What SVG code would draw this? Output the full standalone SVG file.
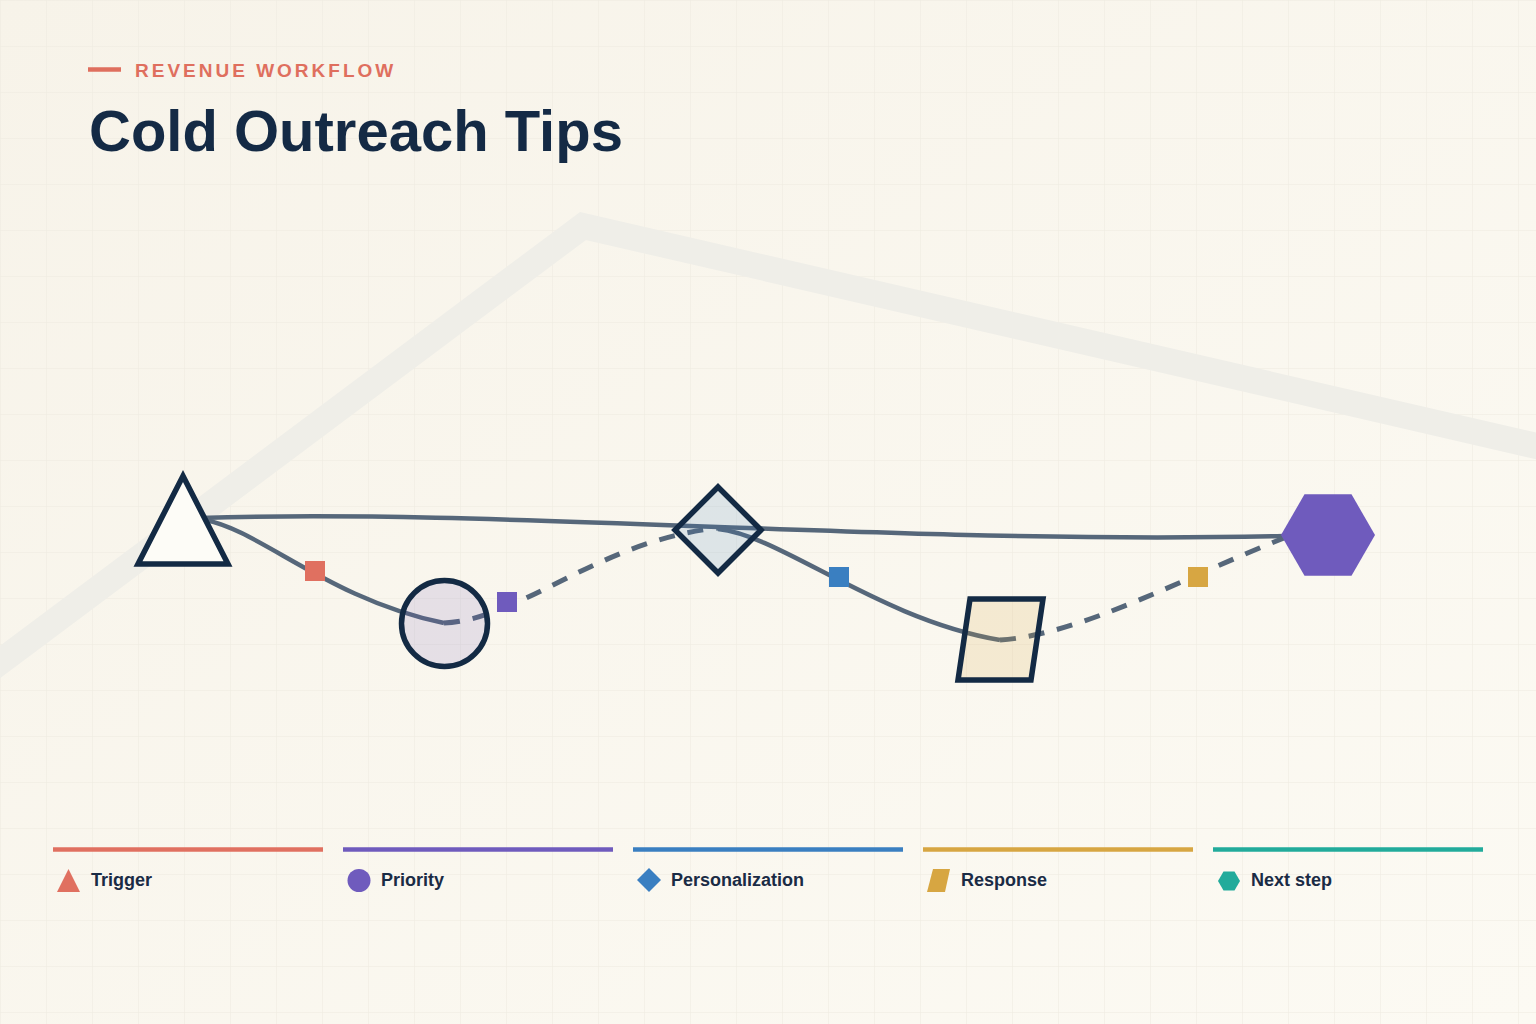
<svg xmlns="http://www.w3.org/2000/svg" width="1536" height="1024" viewBox="0 0 1536 1024">
  <defs>
    <linearGradient id="bg" x1="0" y1="0" x2="1" y2="1">
      <stop offset="0" stop-color="#f7f3e9"/>
      <stop offset="1" stop-color="#fcfaf3"/>
    </linearGradient>
    <pattern id="grid" width="46" height="46" patternUnits="userSpaceOnUse">
      <path d="M46 0 L0 0 0 46" fill="none" stroke="#edeadf" stroke-width="1"/>
    </pattern>
    <style>
      .node { stroke: #132a44; stroke-width: 5.5; stroke-linejoin: miter; }
      .conn { fill: none; stroke: #56677a; stroke-width: 4.5; }
      .dash { stroke-dasharray: 16 13; stroke-width: 5; }
      .lbl { font-family: "Liberation Sans", Arial, sans-serif; font-weight: bold; font-size: 18px; fill: #1a2b45; }
      .bar { stroke-width: 4.5; }
    </style>
  </defs>

  <rect width="1536" height="1024" fill="url(#bg)"/>
  <rect width="1536" height="1024" fill="url(#grid)"/>
  <polyline points="-40,692 583,226 1580,456" fill="none" stroke="#efeee8" stroke-width="26" stroke-linejoin="miter"/>

  <g id="header">
    <line x1="88" y1="69.5" x2="121" y2="69.5" stroke="#df6f5e" stroke-width="4.5"/>
    <text x="135" y="77" font-family="'Liberation Sans', Arial, sans-serif" font-weight="bold" font-size="19" letter-spacing="3" fill="#df6f5e">REVENUE WORKFLOW</text>
    <text x="89" y="151" font-family="'Liberation Sans', Arial, sans-serif" font-weight="bold" font-size="58" fill="#142a45">Cold Outreach Tips</text>
  </g>

  <g id="connectors">
    <path class="conn" d="M200,518 C500,508 900,545 1284,536"/>
    <path class="conn" d="M205,520 C260,530 330,600 444,623"/>
    <path class="conn dash" d="M444,623 C520,620 600,540 718,528"/>
    <path class="conn" d="M718,529 C780,535 880,620 1000,640"/>
    <path class="conn dash" d="M1000,640 C1080,635 1190,575 1284,538"/>
    <rect x="305" y="561" width="20" height="20" fill="#e07060"/>
    <rect x="497" y="592" width="20" height="20" fill="#6f5bbd"/>
    <rect x="829" y="567" width="20" height="20" fill="#3a7fc1"/>
    <rect x="1188" y="567" width="20" height="20" fill="#d7a642"/>
  </g>

  <g id="node-trigger">
    <polygon class="node" points="183,476 228,564 138,564" fill="#fdfcf7"/>
  </g>
  <g id="node-priority">
    <circle class="node" cx="444.5" cy="623.5" r="43" fill="#6f5bbd" fill-opacity="0.15"/>
  </g>
  <g id="node-personalization">
    <polygon class="node" points="718,487 761,530 718,573 675,530" fill="#3a7fc1" fill-opacity="0.15"/>
  </g>
  <g id="node-response">
    <polygon class="node" points="970,599 1043,599 1031,680 958,680" fill="#d7a642" fill-opacity="0.17"/>
  </g>
  <g id="node-next">
    <polygon points="1375,535 1351.5,575.7 1304.5,575.7 1281,535 1304.5,494.3 1351.5,494.3" fill="#6f5bbd"/>
  </g>

  <g id="legend">
    <line class="bar" x1="53" y1="849.5" x2="323" y2="849.5" stroke="#e07060"/>
    <line class="bar" x1="343" y1="849.5" x2="613" y2="849.5" stroke="#6f5bbd"/>
    <line class="bar" x1="633" y1="849.5" x2="903" y2="849.5" stroke="#3a7fc1"/>
    <line class="bar" x1="923" y1="849.5" x2="1193" y2="849.5" stroke="#d7a642"/>
    <line class="bar" x1="1213" y1="849.5" x2="1483" y2="849.5" stroke="#22ab9b"/>

    <polygon points="68.5,869 80,892 57,892" fill="#e07060"/>
    <text class="lbl" x="91" y="886">Trigger</text>

    <circle cx="359" cy="880.5" r="11.5" fill="#6f5bbd"/>
    <text class="lbl" x="381" y="886">Priority</text>

    <polygon points="649,868 661,880 649,892 637,880" fill="#3a7fc1"/>
    <text class="lbl" x="671" y="886">Personalization</text>

    <polygon points="933,869 950,869 945,892 927,892" fill="#d7a642"/>
    <text class="lbl" x="961" y="886">Response</text>

    <polygon points="1240,881 1234.5,890.5 1223.5,890.5 1218,881 1223.5,871.5 1234.5,871.5" fill="#22ab9b"/>
    <text class="lbl" x="1251" y="886">Next step</text>
  </g>
</svg>
